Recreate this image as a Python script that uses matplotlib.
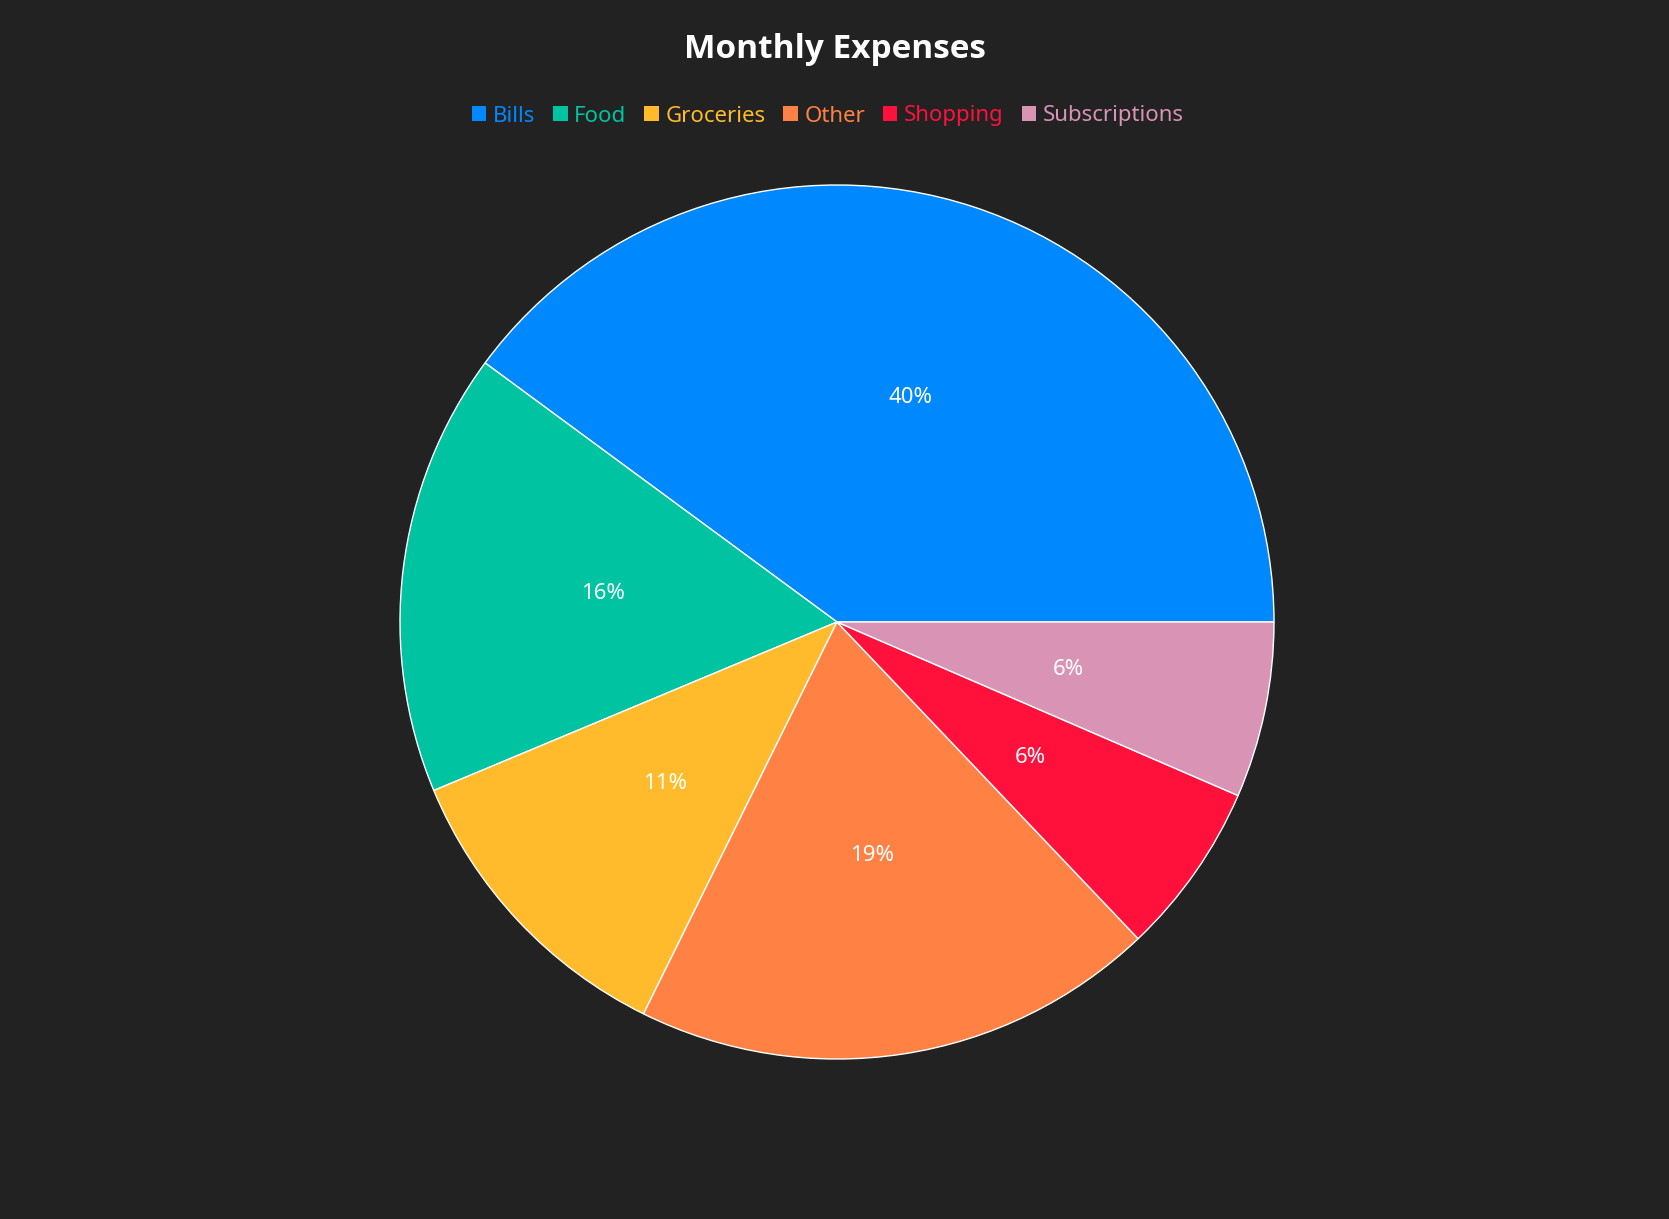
import matplotlib
matplotlib.use('Agg')
import matplotlib.pyplot as plt
from matplotlib.patches import Patch

plt.rcParams['font.family'] = ['Noto Sans', 'DejaVu Sans']

# Data (share of monthly expenses, %)
categories = ['Bills', 'Food', 'Groceries', 'Other', 'Shopping', 'Subscriptions']
values = [39.9, 16.4, 11.4, 19.4, 6.4, 6.5]
colors = ['#0088ff', '#00c4a1', '#ffbb2b', '#ff8244', '#ff113c', '#d993b4']

bg = '#222222'
fig = plt.figure(figsize=(16.69, 12.19), dpi=100, facecolor=bg)

# axes placed so the pie sits where it does in the reference
cx, cy = 837 / 1669, 1 - 622 / 1219
rw, rh = 437 / 1669, 437 / 1219
ax = fig.add_axes([cx - rw, cy - rh, 2 * rw, 2 * rh])
ax.set_facecolor(bg)

wedges, texts, autotexts = ax.pie(
    values, colors=colors, startangle=0, counterclock=True,
    autopct='%1.0f%%', pctdistance=0.54,
    wedgeprops=dict(edgecolor='white', linewidth=1),
    textprops=dict(color='white', fontsize=16))
ax.set_xlim(-1, 1)
ax.set_ylim(-1, 1)
ax.set_aspect('equal')
ax.axis('off')

fig.text(0.5, 1 - 49 / 1219, 'Monthly Expenses', color='white',
         family=['Open Sans', 'DejaVu Sans'],
         fontsize=24, fontweight='bold', ha='center', va='center')

handles = [Patch(facecolor=c, edgecolor='none') for c in colors]
fig.legend(handles, categories, loc='center', bbox_to_anchor=(0.496, 1 - 116 / 1219),
           ncol=len(categories), frameon=False, fontsize=16, labelcolor=colors,
           handlelength=0.65, handleheight=0.65, handletextpad=0.3, columnspacing=0.8)

plt.savefig('out.png', dpi=100, facecolor=bg)
